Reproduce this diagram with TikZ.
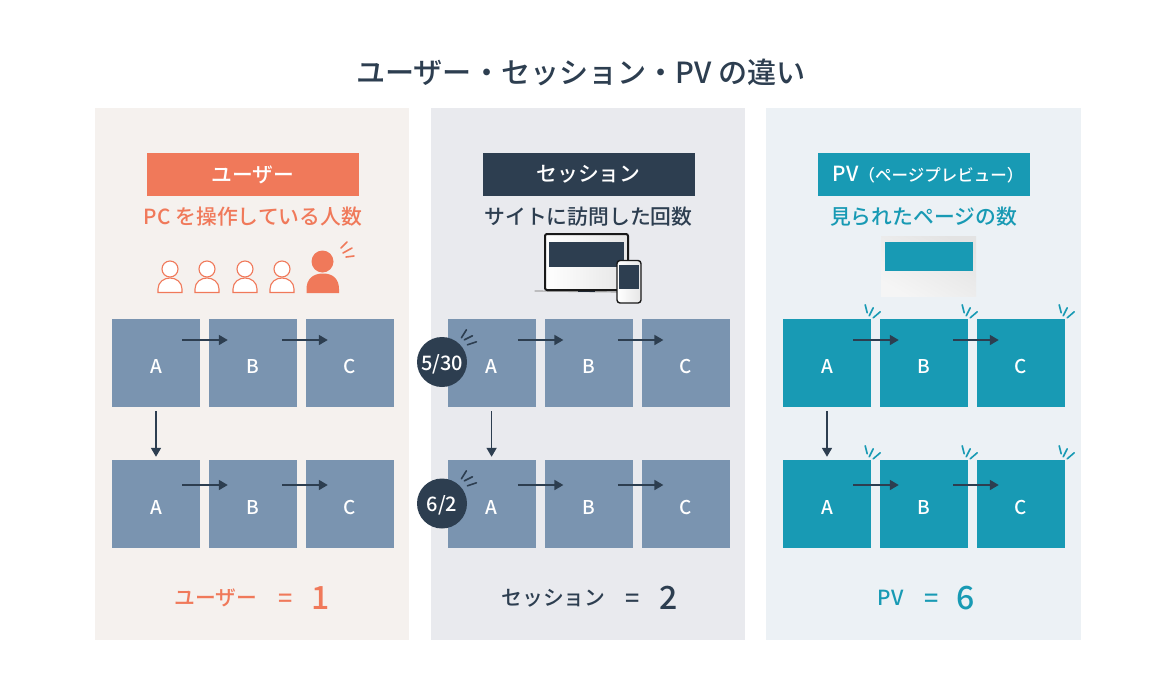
\documentclass[tikz,border=0pt]{standalone}
\usepackage{fontspec}
\setmainfont{Noto Sans CJK JP Medium}
\usetikzlibrary{arrows.meta}
\definecolor{orange1}{HTML}{F0795A}
\definecolor{navy1}{HTML}{2D3E50}
\definecolor{slate1}{HTML}{7A94B0}
\definecolor{teal1}{HTML}{189AB4}
\definecolor{bgU}{HTML}{F5F1EE}
\definecolor{bgS}{HTML}{E9EAEE}
\definecolor{bgP}{HTML}{ECF1F5}
\tikzset{
	panel/.style={fill=#1,draw=none},
	headbox/.style={fill=#1,minimum width=212pt,minimum height=43pt,inner sep=0pt,text=white,font=\fontsize{20.8}{24}\selectfont},
	sub/.style={text=#1,inner sep=0pt,font=\fontsize{20.8}{24}\selectfont},
	pagebox/.style={fill=#1,minimum size=88pt,inner sep=0pt,text=white,text height=21pt,text depth=0pt,font=\fontsize{19}{22}\selectfont},
	flow/.style={->,navy1,line width=1.7pt},
	badge/.style={circle,fill=navy1,minimum size=50pt,inner sep=0pt,text=white,text height=16pt,text depth=0pt,font=\fontsize{20}{24}\selectfont},
	spark/.style={line width=1.6pt,line cap=round},
	result/.style={text=#1,inner sep=0pt,font=\fontsize{20.8}{24}\selectfont},
	equals/.style={text=#1,inner sep=0pt,font=\fontsize{25}{28}\selectfont},
	bignum/.style={text=#1,inner sep=0pt,font=\fontsize{32}{36}\selectfont}
}
\begin{document}
\begin{tikzpicture}[x=1pt,y=-1pt,>={Triangle[length=9pt,width=10pt]}]
	\useasboundingbox (0,0) rectangle (1160,681);
	\fill[white] (0,0) rectangle (1160,681);
	\node[inner sep=0pt,text=navy1,font=\fontsize{29.1}{34}\selectfont] (title) at (581,72) {ユーザー・セッション・PV の違い};
	% panels
	\fill[panel=bgU] (95,108) rectangle (409,640);
	\fill[panel=bgS] (431,108) rectangle (745,640);
	\fill[panel=bgP] (766,108) rectangle (1081,640);
	% headings
	\node[headbox=orange1] (headU) at (253,174.5) {ユーザー};
	\node[headbox=navy1] (headS) at (588.5,174.5) {セッション};
	\node[headbox=teal1] (headP) at (923.5,174.5) {\hspace*{9pt}PV{\fontsize{16.5}{20}\selectfont（ページプレビュー）}};
	\node[sub=orange1] (subU) at (253,217) {PC を操作している人数};
	\node[sub=navy1] (subS) at (588.5,217) {サイトに訪問した回数};
	\node[sub=teal1] (subP) at (923.5,217) {見られたページの数};
	% people
	\foreach \x in {170,207,245,282}{
		\draw[orange1,line width=1.1pt,fill=white] (\x-12,292.5)--(\x-12,289) .. controls (\x-12,282) and (\x-6,278) .. (\x,278) .. controls (\x+6,278) and (\x+12,282) .. (\x+12,289)--(\x+12,292.5)--cycle;
		\draw[orange1,line width=1.1pt,fill=white] (\x,269) circle (8);
	}
	\fill[orange1] (306.5,293)--(306.5,289) .. controls (306.5,279) and (313,273.5) .. (323,273.5) .. controls (333,273.5) and (339,279) .. (339,289)--(339,293)--cycle;
	\fill[orange1] (322.5,261.5) circle (11);
	\draw[spark,orange1] (347,242)--(341,248);
	\draw[spark,orange1] (352,248)--(343,253);
	\draw[spark,orange1] (354,256)--(346,257);
	% laptop and phone
	\draw[gray!70,line width=1.2pt,line cap=round] (535,291)--(620,292);
	\fill[navy1!70!black] (578,290) rectangle (595,292);
	\draw[black!90,line width=2pt,rounded corners=2pt,left color=white,right color=black!10] (545,234) rectangle (628,290);
	\fill[navy1] (549,242) rectangle (624,267);
	\draw[black!90,line width=1.4pt,rounded corners=3pt,left color=white,right color=black!10] (617,260.5) rectangle (641,303);
	\fill[navy1] (619,264.5) rectangle (639,289);
	% page
	\fill[top color=black!11,bottom color=black!4,shading angle=-30] (881,236) rectangle (976,296);
	\fill[teal1] (885,242) rectangle (973,271);
	% boxes
	\foreach \n/\x/\c in {u/112/slate1,s/447.6/slate1,p/783/teal1}{
		\foreach \r/\y in {1/363,2/504}{
			\node[pagebox=\c] (\n A\r) at (\x+44,\y) {A};
			\node[pagebox=\c] (\n B\r) at (\x+141,\y) {B};
			\node[pagebox=\c] (\n C\r) at (\x+238,\y) {C};
		}
	}
	% arrows
	\foreach \n in {u,s,p}{
		\draw[flow] ([shift={(-18,-23)}]\n A1.east)--([shift={(19,-23)}]\n B1.west);
		\draw[flow] ([shift={(-15,-23)}]\n B1.east)--([shift={(22,-23)}]\n C1.west);
		\draw[flow] ([shift={(-18,-19)}]\n A2.east)--([shift={(19,-19)}]\n B2.west);
		\draw[flow] ([shift={(-15,-19)}]\n B2.east)--([shift={(22,-19)}]\n C2.west);
		\draw[flow] ([yshift=-4pt]\n A1.south)--([yshift=3pt]\n A2.north);
	}
	% sparks on the PV boxes
	\foreach \b in {pA1,pB1,pC1,pA2,pB2,pC2}{
		\draw[spark,teal1] ([shift={(-6,-14)}]\b.north east)--([shift={(-4,-6)}]\b.north east);
		\draw[spark,teal1] ([shift={(2,-11)}]\b.north east)--([shift={(-2,-3)}]\b.north east);
		\draw[spark,teal1] ([shift={(9,-7)}]\b.north east)--([shift={(2,-1)}]\b.north east);
	}
	% badges
	\node[badge] (visit1) at (442,362) {5/30};
	\node[badge] (visit2) at (442,503.5) {6/2};
	\foreach \b in {sA1,sA2}{
		\draw[spark,navy1] ([shift={(19,11)}]\b.north west)--([shift={(14,19)}]\b.north west);
		\draw[spark,navy1] ([shift={(25,17)}]\b.north west)--([shift={(17,21)}]\b.north west);
		\draw[spark,navy1] ([shift={(29,23)}]\b.north west)--([shift={(20,26)}]\b.north west);
	}
	% totals
	\node[result=orange1] (totU) at (216,598) {ユーザー};
	\node[equals=orange1] (eqU) at (285.5,601) {=};
	\node[bignum=orange1] (numU) at (321,598) {1};
	\node[result=navy1] (totS) at (553.5,598) {セッション};
	\node[equals=navy1] (eqS) at (632.5,601) {=};
	\node[bignum=navy1] (numS) at (669,598) {2};
	\node[result=teal1] (totP) at (890.5,598) {PV};
	\node[equals=teal1] (eqP) at (931.5,601) {=};
	\node[bignum=teal1] (numP) at (966,598) {6};
\end{tikzpicture}
\end{document}
